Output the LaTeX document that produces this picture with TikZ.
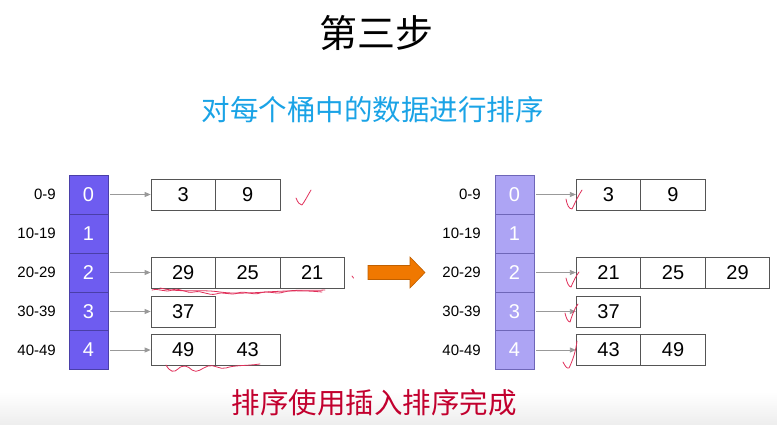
\documentclass[tikz,border=0pt]{standalone}
\usepackage{fontspec}
\setmainfont{Liberation Sans}
\newfontfamily\cjk{Noto Sans CJK SC}
\usetikzlibrary{arrows.meta}
\definecolor{cellA}{HTML}{6E5CF0}
\definecolor{cellB}{HTML}{ADA4F4}
\definecolor{cellEdge}{HTML}{4A3FA8}
\definecolor{cellEdgeB}{HTML}{6E66B8}
\definecolor{boxEdge}{HTML}{555555}
\definecolor{subBlue}{HTML}{1AA3E6}
\definecolor{botRed}{HTML}{C2002E}
\definecolor{arrOrange}{HTML}{F07800}
\definecolor{arrEdge}{HTML}{C06000}
\definecolor{inkRed}{HTML}{E0305A}
\begin{document}
\begin{tikzpicture}[x=1pt,y=-1pt,
  cell/.style={draw=cellEdge,line width=0.8pt,fill=cellA,text=white,minimum width=39pt,minimum height=39pt,inner sep=0pt,font=\fontsize{20}{20}\selectfont},
  cellb/.style={cell,fill=cellB,draw=cellEdgeB},
  numbox/.style={draw=boxEdge,line width=0.7pt,fill=white,minimum width=64.5pt,minimum height=31pt,inner sep=0pt,font=\fontsize{20}{20}\selectfont},
  rng/.style={anchor=east,inner sep=0pt,font=\fontsize{15}{15}\selectfont},
  ptr/.style={draw=gray!80,line width=0.8pt,-{Triangle[length=6pt,width=5pt]},shorten <=2pt},
  ink/.style={draw=inkRed,line width=0.8pt,line cap=round,line join=round}
]
\useasboundingbox (0,0) rectangle (777,425);
\shade[top color=white,bottom color=black!7] (0,392) rectangle (777,425);

% titles
\node (title) at (376,33) {\cjk\fontsize{38}{38}\selectfont 第三步};
\node[text=subBlue] (sub) at (372.5,110) {\cjk\fontsize{28.5}{28.5}\selectfont 对每个桶中的数据进行排序};
\node[text=botRed] (bot) at (374,403) {\cjk\fontsize{28.5}{28.5}\selectfont 排序使用插入排序完成};

% buckets and range labels
\foreach \i/\y/\r in {0/194.5/0-9,1/233.5/10-19,2/272.5/20-29,3/311.5/30-39,4/350/40-49}{
  \node[cell] (L\i) at (88.5,\y) {\i};
  \node[rng] (LR\i) at (56,\y) {\r};
  \node[cellb] (R\i) at (514.5,\y) {\i};
  \node[rng] (RR\i) at (481,\y) {\r};
}

% left boxes
\node[numbox] (La1) at (183.25,194.5) {3};
\node[numbox] (La2) at (247.75,194.5) {9};
\node[numbox] (Lc1) at (183.25,272.5) {29};
\node[numbox] (Lc2) at (247.75,272.5) {25};
\node[numbox] (Lc3) at (312.25,272.5) {21};
\node[numbox] (Ld1) at (183.25,311.5) {37};
\node[numbox] (Le1) at (183.25,350) {49};
\node[numbox] (Le2) at (247.75,350) {43};

% right boxes
\node[numbox] (Ra1) at (608.5,194.5) {3};
\node[numbox] (Ra2) at (673,194.5) {9};
\node[numbox] (Rc1) at (608.5,272.5) {21};
\node[numbox] (Rc2) at (673,272.5) {25};
\node[numbox] (Rc3) at (737.5,272.5) {29};
\node[numbox] (Rd1) at (608.5,311.5) {37};
\node[numbox] (Re1) at (608.5,350) {43};
\node[numbox] (Re2) at (673,350) {49};

% pointers
\foreach \a/\b in {L0/La1,L2/Lc1,L3/Ld1,L4/Le1,R0/Ra1,R2/Rc1,R3/Rd1,R4/Re1}{
  \draw[ptr] (\a.east) -- (\b.west);
}

% orange arrow
\draw[fill=arrOrange,draw=arrEdge,line width=0.6pt,line join=miter]
  (368,265.5) -- (410,265.5) -- (410,257) -- (425,272.5) -- (410,288) -- (410,279.5) -- (368,279.5) -- cycle;

% red handwritten marks (left)
\draw[ink] (296,198) .. controls (298,203) and (300,205) .. (302,205) .. controls (305,201) and (308,195) .. (311,190);
\draw[ink] (152,290) .. controls (160,288) and (165,293) .. (172,290) .. controls (180,287) and (186,294) .. (194,292)
  .. controls (202,290) and (208,296) .. (216,294) .. controls (224,291) and (230,296) .. (238,293)
  .. controls (246,290) and (252,296) .. (260,293) .. controls (268,290) and (276,295) .. (284,292)
  .. controls (294,289) and (310,291) .. (325,290);
\draw[ink] (160,288) .. controls (180,293) and (200,289) .. (220,292) .. controls (250,296) and (280,288) .. (322,292);
\draw[ink] (352,276) -- (353.5,278);
\draw[ink] (166,365) .. controls (170,372) and (174,373) .. (178,369) .. controls (183,364) and (188,366) .. (192,370)
  .. controls (197,374) and (202,368) .. (208,366) .. controls (214,364) and (220,370) .. (226,368)
  .. controls (234,365) and (246,366) .. (260,364);

% red handwritten marks (right)
\draw[ink] (566,199) .. controls (567,205) and (569,209) .. (572,209) .. controls (575,203) and (578,196) .. (582,190);
\draw[ink] (566,278) .. controls (567,283) and (569,287) .. (571,287) .. controls (573,282) and (576,276) .. (579,272);
\draw[ink] (565,313) .. controls (566,318) and (568,322) .. (570,322) .. controls (572,316) and (574,309) .. (578,304);
\draw[ink] (563,362) .. controls (565,366) and (567,369) .. (569,368) .. controls (573,360) and (576,350) .. (577,341);
\end{tikzpicture}
\end{document}
